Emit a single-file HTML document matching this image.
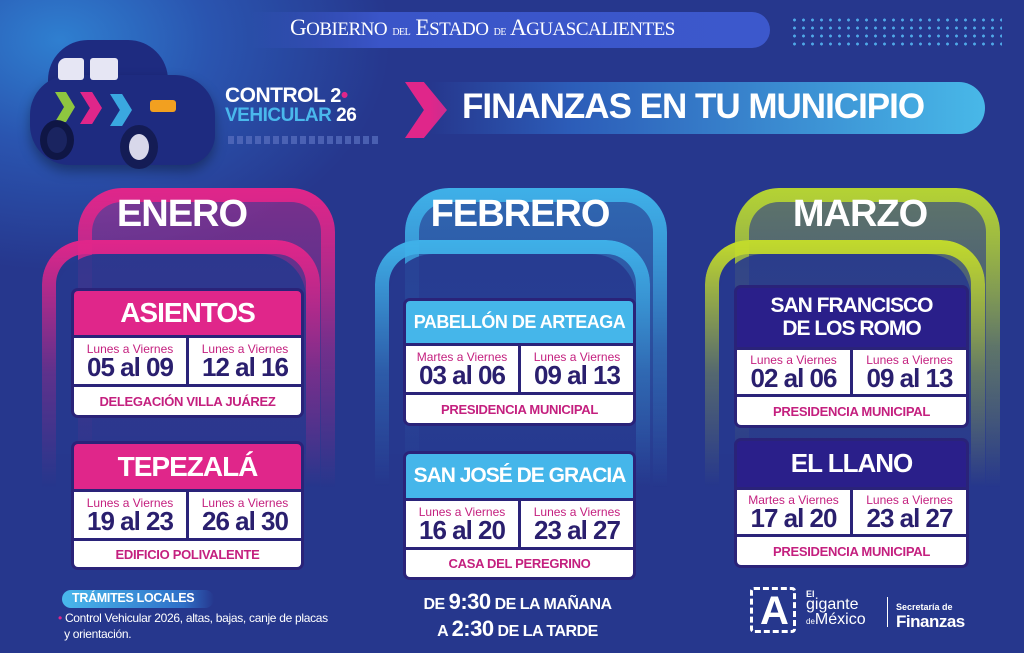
<!DOCTYPE html>
<html><head><meta charset="utf-8">
<style>
*{margin:0;padding:0;box-sizing:border-box}
body{width:1024px;height:653px;overflow:hidden;position:relative;font-family:"Liberation Sans",sans-serif;font-weight:bold;
background:radial-gradient(ellipse 330px 230px at 60px 40px,#2f7fd0 0%,#2a55b0 45%,rgba(38,56,142,0) 100%),#26378d;color:#fff}
.a{position:absolute}
.frame{position:absolute;padding:14px;border-radius:44px 44px 0 0;
-webkit-mask:linear-gradient(#000 0 0) content-box,linear-gradient(#000 0 0);-webkit-mask-composite:xor;mask-composite:exclude}
.fill{position:absolute;border-radius:44px 44px 0 0}
.title{position:absolute;font-size:38px;text-align:center;letter-spacing:-1px;width:300px}
.card{position:absolute;background:#2a2379;border-radius:7px;padding:3px;display:flex;flex-direction:column;gap:3px}
.hd{display:flex;align-items:center;justify-content:center;text-align:center;border-radius:4px 4px 0 0;letter-spacing:-1px;line-height:1.05}
.row{display:flex;gap:3px}
.d{flex:1;background:#fff;text-align:center;color:#2a1f6e;font-size:26px;letter-spacing:-1px;line-height:23px;display:flex;flex-direction:column;justify-content:center}
.d span{display:block;font-size:12px;color:#c4207f;font-weight:normal;letter-spacing:0;line-height:13px}
.loc{background:#fff;color:#c4207f;font-size:13px;display:flex;align-items:center;justify-content:center;border-radius:0 0 4px 4px;letter-spacing:-0.3px}
</style></head><body>

<div class="a" style="left:250px;top:12px;width:520px;height:36px;border-radius:0 18px 18px 0;background:linear-gradient(90deg,rgba(58,85,200,0),#3a55c8 25%,#3c58cc)"></div>
<div class="a" style="left:290px;top:15px;font-family:'Liberation Serif',serif;font-weight:normal;font-size:23px;letter-spacing:-0.5px">G<span style="font-size:19px">OBIERNO</span> <span style="font-size:10px">DEL</span> E<span style="font-size:19px">STADO</span> <span style="font-size:10px">DE</span> A<span style="font-size:19px">GUASCALIENTES</span></div>
<div class="a" style="left:790px;top:16px;width:212px;height:30px;background-image:radial-gradient(circle,#4fa8e8 1.3px,transparent 1.6px);background-size:9px 8px"></div>

<!-- car -->
<div class="a" style="left:48px;top:40px;width:120px;height:60px;border-radius:40px 40px 10px 10px;background:#1e2b80"></div>
<div class="a" style="left:30px;top:75px;width:185px;height:90px;border-radius:40px 40px 30px 40px;background:#1e2b80;box-shadow:0 6px 12px rgba(0,0,0,.35)"></div>
<div class="a" style="left:58px;top:58px;width:26px;height:22px;background:#e6e6f4;border-radius:8px 3px 3px 3px"></div>
<div class="a" style="left:90px;top:58px;width:28px;height:22px;background:#e6e6f4;border-radius:3px"></div>
<div class="a" style="left:55px;top:92px;width:20px;height:30px;background:#8ec63f;clip-path:polygon(0 0,55% 0,100% 50%,55% 100%,0 100%,45% 50%)"></div>
<div class="a" style="left:80px;top:92px;width:22px;height:32px;background:#e0268a;clip-path:polygon(0 0,55% 0,100% 50%,55% 100%,0 100%,45% 50%)"></div>
<div class="a" style="left:110px;top:94px;width:22px;height:32px;background:#3aa8e0;clip-path:polygon(0 0,55% 0,100% 50%,55% 100%,0 100%,45% 50%)"></div>
<div class="a" style="left:150px;top:100px;width:26px;height:12px;background:#f2a020;border-radius:3px"></div>
<div class="a" style="left:40px;top:120px;width:34px;height:40px;border-radius:50%;background:#1a2460;border:7px solid #0f1645"></div>
<div class="a" style="left:120px;top:125px;width:38px;height:44px;border-radius:50%;background:#d8d8ea;border:9px solid #141c55"></div>

<div class="a" style="left:225px;top:84px;font-size:21px;letter-spacing:-0.5px">CONTROL <span style="font-size:20px">2</span><span style="color:#e0268a">•</span></div>
<div class="a" style="left:225px;top:105px;font-size:19px;color:#4ab8ec;letter-spacing:-0.5px">VEHICULAR <span style="color:#fff">26</span></div>
<div class="a" style="left:228px;top:136px;width:150px;height:8px;background-image:repeating-linear-gradient(90deg,#5a70c0 0 6px,transparent 6px 9px);opacity:.7"></div>

<div class="a" style="left:405px;top:82px;width:42px;height:56px;background:#e0268a;clip-path:polygon(0 0,45% 0,100% 50%,45% 100%,0 100%,45% 50%)"></div>
<div class="a" style="left:430px;top:82px;width:555px;height:52px;border-radius:0 26px 26px 0;background:linear-gradient(90deg,rgba(42,74,168,0),#2c5cb8 25%,#48b8e8)"></div>
<div class="a" style="left:462px;top:87px;font-size:35px;letter-spacing:-1px">FINANZAS EN TU MUNICIPIO</div>

<!-- frames -->
<div class="fill" style="left:78px;top:188px;width:257px;height:300px;background:linear-gradient(rgba(224,38,138,.45),rgba(224,38,138,0))"></div>
<div class="fill" style="left:405px;top:188px;width:262px;height:300px;background:linear-gradient(rgba(63,176,232,.4),rgba(63,176,232,0))"></div>
<div class="fill" style="left:735px;top:188px;width:265px;height:300px;background:linear-gradient(rgba(181,211,52,.4),rgba(181,211,52,0))"></div>
<div class="frame" style="left:78px;top:188px;width:257px;height:400px;background:linear-gradient(#e0268a,rgba(224,38,138,0.25) 40%,rgba(224,38,138,0) 75%)"></div>
<div class="frame" style="left:405px;top:188px;width:262px;height:400px;background:linear-gradient(#3fb0e8,rgba(63,176,232,0.25) 40%,rgba(63,176,232,0) 75%)"></div>
<div class="frame" style="left:735px;top:188px;width:265px;height:400px;background:linear-gradient(#b5d334,rgba(181,211,52,0.25) 40%,rgba(181,211,52,0) 75%)"></div>
<div class="fill" style="left:56px;top:254px;width:250px;height:200px;background:linear-gradient(rgba(38,56,142,.9),rgba(38,56,142,.6))"></div>
<div class="fill" style="left:389px;top:254px;width:247px;height:200px;background:linear-gradient(rgba(38,56,142,.9),rgba(38,56,142,.6))"></div>
<div class="fill" style="left:719px;top:254px;width:252px;height:200px;background:linear-gradient(rgba(38,56,142,.9),rgba(38,56,142,.6))"></div>
<div class="frame" style="left:42px;top:240px;width:278px;height:380px;background:linear-gradient(#e0268a,rgba(224,38,138,0.3) 35%,rgba(224,38,138,0) 65%)"></div>
<div class="frame" style="left:375px;top:240px;width:275px;height:380px;background:linear-gradient(#3fb0e8,rgba(63,176,232,0.3) 35%,rgba(63,176,232,0) 65%)"></div>
<div class="frame" style="left:705px;top:240px;width:280px;height:380px;background:linear-gradient(#c2da2c,rgba(194,218,44,0.3) 35%,rgba(194,218,44,0) 65%)"></div>

<div class="title" style="left:32px;top:193px">ENERO</div>
<div class="title" style="left:370px;top:193px">FEBRERO</div>
<div class="title" style="left:710px;top:193px">MARZO</div>

<div class="card" style="left:71px;top:288px;width:233px;height:130px">
 <div class="hd" style="height:44px;background:#e0268a;font-size:28px">ASIENTOS</div>
 <div class="row" style="height:46px"><div class="d"><span>Lunes a Viernes</span>05 al 09</div><div class="d"><span>Lunes a Viernes</span>12 al 16</div></div>
 <div class="loc" style="flex:1">DELEGACIÓN VILLA JUÁREZ</div>
</div>
<div class="card" style="left:71px;top:441px;width:233px;height:129px">
 <div class="hd" style="height:45px;background:#e0268a;font-size:28px">TEPEZALÁ</div>
 <div class="row" style="height:46px"><div class="d"><span>Lunes a Viernes</span>19 al 23</div><div class="d"><span>Lunes a Viernes</span>26 al 30</div></div>
 <div class="loc" style="flex:1">EDIFICIO POLIVALENTE</div>
</div>

<div class="card" style="left:403px;top:298px;width:233px;height:128px">
 <div class="hd" style="height:42px;background:#45b6ea;font-size:18px;letter-spacing:-0.5px">PABELLÓN DE ARTEAGA</div>
 <div class="row" style="height:46px"><div class="d"><span>Martes a Viernes</span>03 al 06</div><div class="d"><span>Lunes a Viernes</span>09 al 13</div></div>
 <div class="loc" style="flex:1">PRESIDENCIA MUNICIPAL</div>
</div>
<div class="card" style="left:403px;top:451px;width:233px;height:129px">
 <div class="hd" style="height:44px;background:#45b6ea;font-size:21px">SAN JOSÉ DE GRACIA</div>
 <div class="row" style="height:46px"><div class="d"><span>Lunes a Viernes</span>16 al 20</div><div class="d"><span>Lunes a Viernes</span>23 al 27</div></div>
 <div class="loc" style="flex:1">CASA DEL PEREGRINO</div>
</div>

<div class="card" style="left:734px;top:285px;width:235px;height:143px">
 <div class="hd" style="height:59px;background:#2a1f8a;font-size:21px">SAN FRANCISCO<br>DE LOS ROMO</div>
 <div class="row" style="height:44px"><div class="d"><span>Lunes a Viernes</span>02 al 06</div><div class="d"><span>Lunes a Viernes</span>09 al 13</div></div>
 <div class="loc" style="flex:1">PRESIDENCIA MUNICIPAL</div>
</div>
<div class="card" style="left:734px;top:438px;width:235px;height:130px">
 <div class="hd" style="height:46px;background:#2a1f8a;font-size:26px">EL LLANO</div>
 <div class="row" style="height:44px"><div class="d"><span>Martes a Viernes</span>17 al 20</div><div class="d"><span>Lunes a Viernes</span>23 al 27</div></div>
 <div class="loc" style="flex:1">PRESIDENCIA MUNICIPAL</div>
</div>

<div class="a" style="left:62px;top:590px;width:152px;height:18px;border-radius:9px;background:linear-gradient(90deg,#49b8ec,#2f70c8 80%,rgba(47,112,200,0))"></div>
<div class="a" style="left:72px;top:591px;font-size:12.5px;letter-spacing:-0.3px">TRÁMITES LOCALES</div>
<div class="a" style="left:58px;top:610px;font-size:12px;font-weight:normal;line-height:16px;width:320px;letter-spacing:-0.3px"><span style="color:#e0268a">•</span> Control Vehicular 2026, altas, bajas, canje de placas<br>&nbsp;&nbsp;y orientación.</div>
<div class="a" style="left:380px;top:590px;width:275px;text-align:center;font-size:16px;line-height:24px;letter-spacing:-0.5px">DE <span style="font-size:22px">9:30</span> DE LA MAÑANA<br>A <span style="font-size:22px">2:30</span> DE LA TARDE</div>

<div class="a" style="left:750px;top:587px;width:46px;height:46px;border:3px dashed #fff;border-radius:4px"></div>
<div class="a" style="left:760px;top:590px;font-size:40px;line-height:42px">A</div>
<div class="a" style="left:806px;top:590px;font-size:9px;line-height:9px">El</div>
<div class="a" style="left:806px;top:597px;font-size:16px;line-height:16px;font-weight:normal">gigante</div>
<div class="a" style="left:806px;top:612px;font-size:16px;line-height:16px;font-weight:normal"><span style="font-size:8px">de</span>México</div>
<div class="a" style="left:887px;top:597px;width:1px;height:30px;background:#fff"></div>
<div class="a" style="left:896px;top:602px;font-size:9px">Secretaría de</div>
<div class="a" style="left:896px;top:612px;font-size:17px;letter-spacing:-0.5px">Finanzas</div>
</body></html>
